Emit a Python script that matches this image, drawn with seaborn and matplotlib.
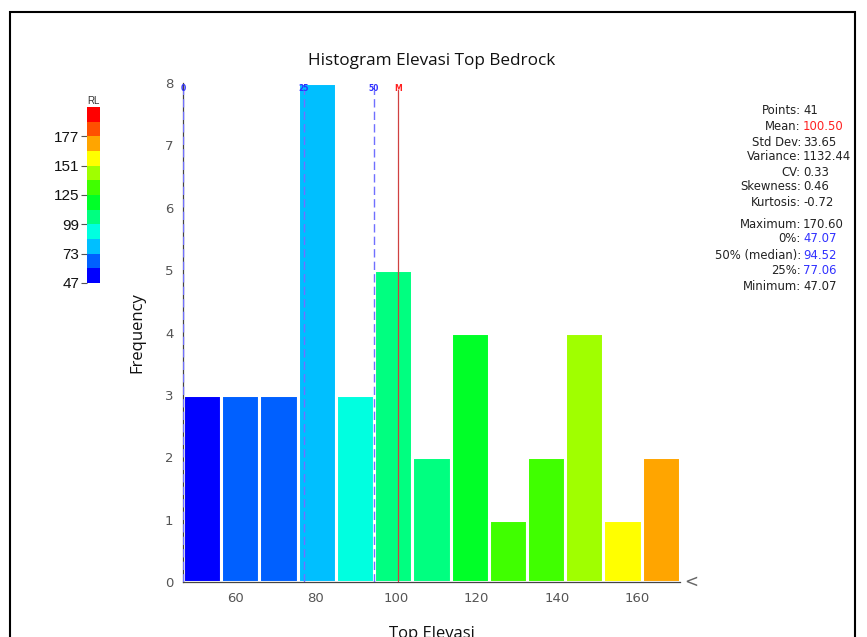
import numpy as np
import pandas as pd
import matplotlib
matplotlib.use("Agg")
import matplotlib.pyplot as plt
import seaborn as sns
from matplotlib.colors import ListedColormap, BoundaryNorm
from matplotlib.cm import ScalarMappable
from matplotlib.patches import Rectangle

# ---------------- data ----------------
bin_edges = [47.07, 56.57, 66.07, 75.57, 85.07, 94.57, 104.07, 113.57,
             123.07, 132.57, 142.07, 151.57, 161.07, 170.60]
counts = [3, 3, 3, 8, 3, 5, 2, 4, 1, 2, 4, 1, 2]
x_ticks = [60, 80, 100, 120, 140, 160]
y_ticks = [0, 1, 2, 3, 4, 5, 6, 7, 8]

cbar_bounds = [47, 60, 73, 86, 99, 112, 125, 138, 151, 164, 177, 190, 203]
cbar_colors = ["#0000ff", "#0060ff", "#00bfff", "#00ffe0", "#00ff80", "#00ff28",
               "#40ff00", "#a0ff00", "#ffff00", "#ffa500", "#ff5000", "#ff0000"]
cbar_ticks = [47, 73, 99, 125, 151, 177]

stat_labels = ["Points:", "Mean:", "Std Dev:", "Variance:", "CV:", "Skewness:", "Kurtosis:",
               "Maximum:", "0%:", "50% (median):", "25%:", "Minimum:"]
stat_values = ["41", "100.50", "33.65", "1132.44", "0.33", "0.46", "-0.72",
               "170.60", "47.07", "94.52", "77.06", "47.07"]
stat_colors = ["#222222", "#ff2020", "#222222", "#222222", "#222222", "#222222", "#222222",
               "#222222", "#3030ff", "#3030ff", "#3030ff", "#222222"]

mean_val = 100.50
q0, q25, q50 = 47.07, 77.06, 94.52
marker_labels = ["0", "25", "50", "M"]

# ---------------- figure ----------------
sns.set_theme(style="white")
plt.rcParams["font.family"] = ["DejaVu Sans"]

W, H = 867, 637
fig = plt.figure(figsize=(W / 100, H / 100), dpi=100)
fig.patch.set_facecolor("white")

def fx(px):
    return px / W

def fy(py):
    return 1 - py / H

ax = fig.add_axes([fx(183), fy(582), fx(680) - fx(183), fy(83) - fy(582)])

centers = [(bin_edges[i] + bin_edges[i + 1]) / 2 for i in range(len(counts))]
df = pd.DataFrame({"x": centers, "w": counts})
sns.histplot(data=df, x="x", weights="w", bins=bin_edges, ax=ax,
             edgecolor="white", linewidth=2.2, alpha=1.0)

cmap = ListedColormap(cbar_colors)
norm = BoundaryNorm(cbar_bounds, cmap.N)
for p, c in zip(ax.patches, centers):
    p.set_facecolor(cmap(norm(c)))

ax.set_xlim(bin_edges[0], bin_edges[-1])
ax.set_ylim(0, 8)
ax.set_xticks(x_ticks)
ax.set_yticks(y_ticks)
ax.tick_params(axis="both", direction="out", length=4, width=0.8, color="#555555",
               labelcolor="#555555", labelsize=9.5, pad=3)
for s in ["top", "right"]:
    ax.spines[s].set_visible(False)
for s in ["left", "bottom"]:
    ax.spines[s].set_color("#444444")
    ax.spines[s].set_linewidth(0.9)

ax.set_xlabel("Top Elevasi", family="Open Sans", fontsize=12, labelpad=15, color="#111111")
ax.set_ylabel("Frequency", family="Open Sans", fontsize=12, labelpad=14, color="#111111")
ax.set_title("Histogram Elevasi Top Bedrock", family="Open Sans", fontsize=12.3,
             pad=13, color="#111111")

# quantile / mean lines
ax.axvline(q0, ymax=0.985, color="#7070ff", lw=1.0, ls=(0, (6, 3)), zorder=5)
ax.axvline(q25, ymax=0.985, color="#7070ff", lw=1.0, ls=(0, (6, 3)), zorder=5)
ax.axvline(q50, ymax=0.985, color="#7070ff", lw=1.0, ls=(0, (6, 3)), zorder=5)
ax.axvline(mean_val, ymax=0.985, color="#d04040", lw=0.9, zorder=5)
for v, lab, col in zip([q0, q25, q50, mean_val], marker_labels,
                       ["#3030ff", "#3030ff", "#3030ff", "#ff2020"]):
    ax.text(v, 7.99, lab, ha="center", va="top", fontsize=5.5, color=col,
            fontweight="bold", zorder=6)

# end-of-axis chevron
ax.annotate("<", xy=(1.0, 0.0), xycoords="axes fraction", xytext=(8, 0),
            textcoords="offset points", ha="center", va="center", fontsize=12,
            color="#666666", annotation_clip=False)

# ---------------- colorbar ----------------
cax = fig.add_axes([fx(87), fy(283), fx(100) - fx(87), fy(107) - fy(283)])
sm = ScalarMappable(norm=norm, cmap=cmap)
cb = fig.colorbar(sm, cax=cax, ticks=cbar_ticks, ticklocation="left", drawedges=False)
cb.outline.set_visible(False)
cax.tick_params(axis="y", length=4, width=0.8, color="#555555", labelsize=11,
                labelcolor="#111111", pad=1.5)
for t in cax.get_yticklabels():
    t.set_family("Liberation Sans")
cax.minorticks_off()
cax.set_title("RL", fontsize=7, color="#333333", pad=2, family="Liberation Sans")

# ---------------- stats panel ----------------
rows_y = [110, 126, 142, 157, 172, 187, 202, 224, 239, 255, 270, 286]
for lab, val, col, yy in zip(stat_labels, stat_values, stat_colors, rows_y):
    fig.text(fx(801), fy(yy), lab, ha="right", va="center", fontsize=8.4,
             family="DejaVu Sans", color="#222222")
    fig.text(fx(803), fy(yy), val, ha="left", va="center", fontsize=8.4,
             family="DejaVu Sans", color=col)

# frame border
fig.add_artist(Rectangle((fx(10), fy(660)), fx(855) - fx(10), fy(12) - fy(660),
                         transform=fig.transFigure, fill=False, edgecolor="black",
                         linewidth=1.5, clip_on=False))

fig.savefig("out.png", dpi=100)
